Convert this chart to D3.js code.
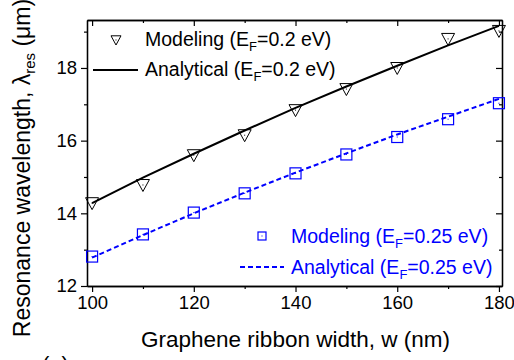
<!DOCTYPE html>
<html lang="en">
<head>
    <meta charset="UTF-8">
    <title>Resonance wavelength vs ribbon width</title>
    <script src="https://d3js.org/d3.v7.min.js"></script>
    <style>
        body { margin: 0; background: #fff; }
        svg { display: block; font-family: Arial, "Liberation Sans", sans-serif; }
    </style>
</head>
<body>
    <div id="chart"></div>
    <script>
        // ribbon widths (nm)
        var widths = [100, 110, 120, 130, 140, 150, 160, 170, 180];
        // E_F = 0.2 eV
        var model02 = [14.28, 14.78, 15.60, 16.15, 16.84, 17.42, 18.00, 18.80, 19.02];
        var analyt02 = [14.28, 14.98, 15.64, 16.28, 16.90, 17.49, 18.06, 18.62, 19.16];
        // E_F = 0.25 eV
        var model025 = [12.81, 13.42, 14.02, 14.55, 15.10, 15.62, 16.10, 16.59, 17.03];
        var analyt025 = [12.78, 13.40, 14.00, 14.57, 15.12, 15.65, 16.17, 16.66, 17.15];

        var xMajor = [100, 120, 140, 160, 180];
        var xMinor = [110, 130, 150, 170];
        var yMajor = [12, 14, 16, 18];
        var yMinor = [13, 15, 17, 19];

        var W = 514, H = 360;
        var margin = {top: 20, right: 12, bottom: 74, left: 87};
        var blue = "#0000ff";

        var svg = d3.select("#chart").append("svg")
            .attr("width", W).attr("height", H);

        var x = d3.scaleLinear().domain([99, 180.6]).range([margin.left, W - margin.right]);
        var y = d3.scaleLinear().domain([12, 19.32]).range([H - margin.bottom, margin.top]);

        // axes: outward ticks bottom/left, inward ticks top/right
        function axisGroup(axis, tr) {
            var g = svg.append("g").attr("transform", tr).call(axis);
            g.select(".domain").attr("stroke", "#000").attr("stroke-width", 1.3);
            g.selectAll(".tick line").attr("stroke", "#000").attr("stroke-width", 1.2);
            g.selectAll("text").attr("font-size", 18.5).attr("fill", "#000")
                .attr("font-family", "Arial, 'Liberation Sans', sans-serif");
            return g;
        }
        var yB = y.range()[0], yT = y.range()[1];
        var xL = x.range()[0], xR = x.range()[1];

        axisGroup(d3.axisBottom(x).tickValues(xMajor).tickSize(6).tickSizeOuter(0).tickPadding(4), "translate(0," + yB + ")");
        axisGroup(d3.axisBottom(x).tickValues(xMinor).tickSize(3).tickSizeOuter(0).tickFormat(""), "translate(0," + yB + ")");
        axisGroup(d3.axisTop(x).tickValues(xMajor).tickSize(-6).tickSizeOuter(0).tickFormat(""), "translate(0," + yT + ")");
        axisGroup(d3.axisTop(x).tickValues(xMinor).tickSize(-3).tickSizeOuter(0).tickFormat(""), "translate(0," + yT + ")");
        axisGroup(d3.axisLeft(y).tickValues(yMajor).tickSize(6).tickSizeOuter(0).tickPadding(4), "translate(" + xL + ",0)");
        axisGroup(d3.axisLeft(y).tickValues(yMinor).tickSize(3).tickSizeOuter(0).tickFormat(""), "translate(" + xL + ",0)");
        axisGroup(d3.axisRight(y).tickValues(yMajor).tickSize(-6).tickSizeOuter(0).tickFormat(""), "translate(" + xR + ",0)");
        axisGroup(d3.axisRight(y).tickValues(yMinor).tickSize(-3).tickSizeOuter(0).tickFormat(""), "translate(" + xR + ",0)");

        // lines
        var line = d3.line().x(function(d) { return x(d[0]); }).y(function(d) { return y(d[1]); });
        svg.append("path")
            .datum(d3.zip(widths, analyt02))
            .attr("d", line).attr("fill", "none").attr("stroke", "#000").attr("stroke-width", 2);
        svg.append("path")
            .datum(d3.zip(widths, analyt025))
            .attr("d", line).attr("fill", "none").attr("stroke", blue).attr("stroke-width", 2)
            .attr("stroke-dasharray", "5,3");

        // markers
        function triangle(g, cx, cy, s) {
            g.append("path")
                .attr("d", "M" + (cx - s / 2) + "," + (cy - s * 0.42) + "L" + (cx + s / 2) + "," + (cy - s * 0.42) + "L" + cx + "," + (cy + s * 0.5) + "Z")
                .attr("fill", "none").attr("stroke", "#000").attr("stroke-width", 1);
            g.append("rect").attr("x", cx - 0.5).attr("y", cy - 0.5).attr("width", 1).attr("height", 1).attr("fill", "#000");
        }
        function square(g, cx, cy, s) {
            g.append("rect").attr("x", cx - s / 2).attr("y", cy - s / 2).attr("width", s).attr("height", s)
                .attr("fill", "none").attr("stroke", blue).attr("stroke-width", 1.2);
            g.append("rect").attr("x", cx - 0.5).attr("y", cy - 0.5).attr("width", 1).attr("height", 1).attr("fill", blue);
        }
        var mk = svg.append("g");
        widths.forEach(function(w, i) {
            triangle(mk, x(w), y(model02[i]), 13);
            square(mk, x(w), y(model025[i]), 11);
        });

        // legend
        function legendText(tx, ty, pre, post, color) {
            var t = svg.append("text").attr("x", tx).attr("y", ty)
                .attr("font-size", 19.5).attr("fill", color);
            t.append("tspan").text(pre);
            t.append("tspan").attr("font-size", 13).attr("dy", 5).text("F");
            t.append("tspan").attr("dy", -5).text(post);
        }
        var lg = svg.append("g");
        triangle(lg, 116, 40, 10);
        legendText(145, 46, "Modeling (E", "=0.2 eV)", "#000");
        lg.append("line").attr("x1", 93).attr("x2", 138).attr("y1", 70).attr("y2", 70)
            .attr("stroke", "#000").attr("stroke-width", 2);
        legendText(145, 76, "Analytical (E", "=0.2 eV)", "#000");

        square(lg, 262, 236, 8);
        legendText(291, 243, "Modeling (E", "=0.25 eV)", blue);
        lg.append("line").attr("x1", 240).attr("x2", 284).attr("y1", 267).attr("y2", 267)
            .attr("stroke", blue).attr("stroke-width", 2).attr("stroke-dasharray", "5,3");
        legendText(291, 274, "Analytical (E", "=0.25 eV)", blue);

        // axis titles
        svg.append("text")
            .attr("x", (xL + xR) / 2 + 1).attr("y", 347)
            .attr("text-anchor", "middle").attr("font-size", 22.5).attr("fill", "#000")
            .text("Graphene ribbon width, w (nm)");

        var yt = svg.append("text")
            .attr("transform", "translate(30," + 168 + ") rotate(-90)")
            .attr("text-anchor", "middle").attr("font-size", 23).attr("fill", "#000");
        yt.append("tspan").text("Resonance wavelength, λ");
        yt.append("tspan").attr("font-size", 15).attr("dy", 5).text("res");
        yt.append("tspan").attr("dy", -5).text(" (μm)");

        // panel label, mostly cut off at the bottom edge
        svg.append("text").attr("x", 42).attr("y", 372).attr("font-size", 22).attr("fill", "#000").text("(a)");
    </script>
</body>
</html>
